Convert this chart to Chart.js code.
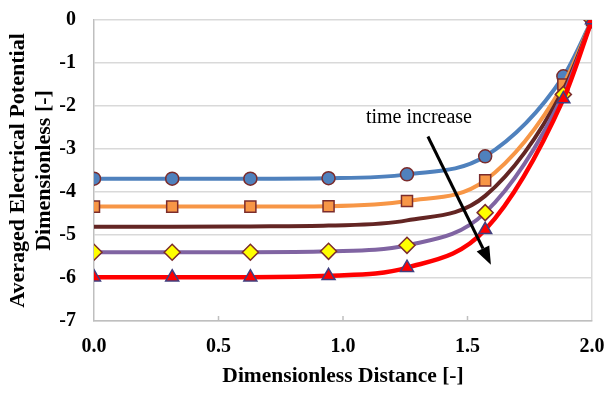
<!DOCTYPE html>
<html>
<head>
<meta charset="utf-8">
<script src="https://cdn.jsdelivr.net/npm/chart.js@4"></script>
<style>
  html, body { margin: 0; padding: 0; background: #fff; }
  #wrap { width: 605px; height: 393px; }
</style>
</head>
<body>
<div id="wrap"><canvas id="grafico" width="605" height="393"></canvas></div>
<script>
// dados
const distancia = [0, 0.314, 0.628, 0.942, 1.257, 1.571, 1.885, 2.0];
const serieAzul    = [-3.69, -3.69, -3.69, -3.68, -3.59, -3.17, -1.31, 0];
const serieLaranja = [-4.34, -4.34, -4.34, -4.33, -4.21, -3.73, -1.50, 0];
const serieMarrom  = [-4.81, -4.81, -4.80, -4.78, -4.66, -4.09, -1.62, 0];
const serieRoxa    = [-5.40, -5.40, -5.40, -5.38, -5.24, -4.48, -1.73, 0];
const serieVermelha= [-5.98, -5.98, -5.98, -5.95, -5.76, -4.88, -1.84, 0];
const ticksX = [0, 0.5, 1.0, 1.5, 2.0];

// seta "time increase" em coordenadas dos dados
const textoSeta = { x: 1.305, y: -2.27, texto: "time increase" };
const seta = { x1: 1.341, y1: -2.71, x2: 1.594, y2: -5.69 };

const serif = "'Liberation Serif', 'Times New Roman', serif";

function pontos(ys){
  return distancia.map((x,i)=>({x:x, y:ys[i]}));
}

function serie(ys, cor, estilo, fundo, borda, raio, ordem, largura){
  return {
    data: pontos(ys),
    borderColor: cor,
    borderWidth: largura || 4,
    pointStyle: estilo,
    pointRadius: estilo ? raio : 0,
    pointBackgroundColor: fundo,
    pointBorderColor: borda,
    pointBorderWidth: 1.5,
    cubicInterpolationMode: "monotone",
    order: ordem
  };
}

/* =========================
   SETA + MARCAS DO EIXO X
========================= */
const extras = {
  id: "extras",
  beforeDatasetsDraw(chart){
    const c = chart.ctx, xs = chart.scales.x, a = chart.chartArea;
    c.save();
    c.strokeStyle = "#BFBFBF";
    c.lineWidth = 1.5;
    [0.5, 1.0, 1.5].forEach(v=>{
      const px = xs.getPixelForValue(v);
      c.beginPath();
      c.moveTo(px, a.bottom);
      c.lineTo(px, a.bottom - 5);
      c.stroke();
    });
    c.restore();
  },
  afterDraw(chart){
    const c = chart.ctx, xs = chart.scales.x, ys = chart.scales.y;
    c.save();
    c.fillStyle = "#000";
    c.font = "20px " + serif;
    c.textAlign = "center";
    c.textBaseline = "middle";
    c.fillText(textoSeta.texto, xs.getPixelForValue(textoSeta.x), ys.getPixelForValue(textoSeta.y));

    const x1 = xs.getPixelForValue(seta.x1), y1 = ys.getPixelForValue(seta.y1);
    const x2 = xs.getPixelForValue(seta.x2), y2 = ys.getPixelForValue(seta.y2);
    const ang = Math.atan2(y2-y1, x2-x1);
    const cab = 18, meia = 7;
    const bx = x2 - cab*Math.cos(ang), by = y2 - cab*Math.sin(ang);
    c.strokeStyle = "#000";
    c.lineWidth = 3;
    c.beginPath();
    c.moveTo(x1, y1);
    c.lineTo(bx, by);
    c.stroke();
    c.beginPath();
    c.moveTo(x2, y2);
    c.lineTo(bx + meia*Math.sin(ang), by - meia*Math.cos(ang));
    c.lineTo(bx - meia*Math.sin(ang), by + meia*Math.cos(ang));
    c.closePath();
    c.fill();
    c.restore();
  }
};

new Chart(document.getElementById("grafico"),{
  type:"line",
  data:{
    datasets:[
      serie(serieAzul, "#4F81BD", "circle", "#4F81BD", "#7B2C2C", 6.5, 4),
      serie(serieLaranja, "#F79646", "rect", "#F79646", "#7B2C2C", 7.8, 3),
      serie(serieMarrom, "#632523", false, "#632523", "#632523", 0, 2),
      serie(serieRoxa, "#8064A2", "rectRot", "#FFFF00", "#7B2C2C", 8, 1),
      serie(serieVermelha, "#FF0000", "triangle", "#FF0000", "#403F7F", 7.5, 0, 4.5)
    ]
  },
  options:{
    responsive:false,
    animation:false,
    layout:{ autoPadding:false, padding:{ top:20, right:13, left:0, bottom:0 } },
    plugins:{ legend:{ display:false }, tooltip:{ enabled:false } },
    scales:{
      x:{
        type:"linear",
        min:0, max:2,
        afterBuildTicks: s => { s.ticks = ticksX.map(v=>({value:v})); },
        afterFit: s => { s.height = 72; s.paddingLeft = 0; s.paddingRight = 0; },
        grid:{
          drawTicks:false,
          lineWidth:1.5,
          color: ctx => (ctx.tick && ctx.tick.value === 2) ? "#D9D9D9" : "rgba(0,0,0,0)"
        },
        border:{ color:"#BFBFBF", width:1.5 },
        ticks:{
          padding:14,
          color:"#000",
          font:{ family:serif, size:20, weight:"bold" },
          callback: v => Number(v).toFixed(1)
        },
        title:{
          display:true,
          text:"Dimensionless Distance [-]",
          color:"#000",
          font:{ family:serif, size:21.5, weight:"bold" },
          padding:{ top:14 }
        }
      },
      y:{
        min:-7, max:0,
        afterFit: s => { s.width = 94; s.paddingTop = 0; s.paddingBottom = 0; },
        grid:{ drawTicks:false, color:"#D9D9D9", lineWidth:1.5 },
        border:{ color:"#BFBFBF", width:1.5 },
        ticks:{
          stepSize:1,
          padding:18,
          color:"#000",
          font:{ family:serif, size:20, weight:"bold" }
        },
        title:{
          display:true,
          text:["Averaged Electrical Potential", "Dimensionless [-]"],
          color:"#000",
          font:{ family:serif, size:22, weight:"bold", lineHeight:1.2 },
          padding:{ top:5, bottom:0 }
        }
      }
    }
  },
  plugins:[extras]
});
</script>
</body>
</html>
